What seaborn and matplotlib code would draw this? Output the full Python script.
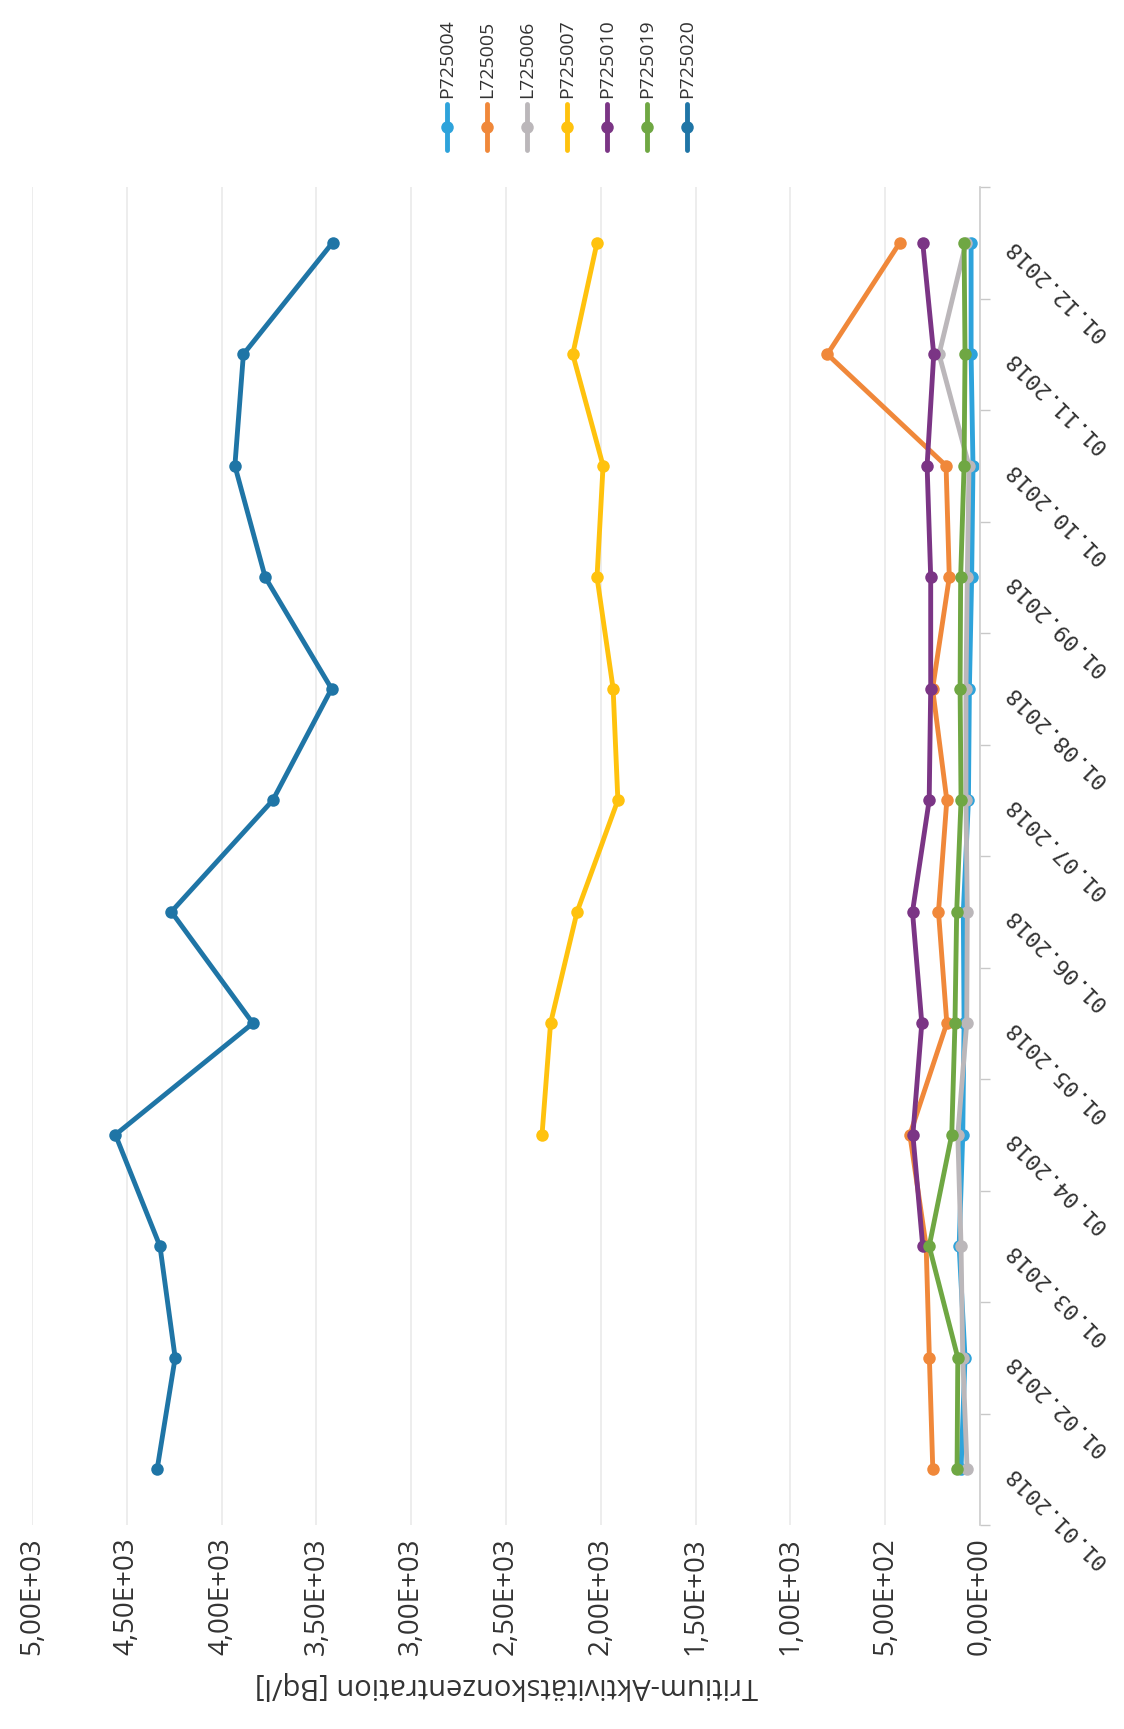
import numpy as np
import pandas as pd
import matplotlib
matplotlib.use("Agg")
import matplotlib.pyplot as plt
from matplotlib.lines import Line2D
from matplotlib.ticker import FuncFormatter
import seaborn as sns

months = ["01.01.2018", "01.02.2018", "01.03.2018", "01.04.2018", "01.05.2018", "01.06.2018",
          "01.07.2018", "01.08.2018", "01.09.2018", "01.10.2018", "01.11.2018", "01.12.2018"]

stations = ["P725004", "L725005", "L725006", "P725007", "P725010", "P725019", "P725020"]

p725004 = [100, 79, 110, 91, 84, 88, 61, 56, 44, 37, 47, 47]
l725005 = [249, 267, 284, 370, 175, 219, 175, 250, 162, 179, 805, 423]
l725006 = [68, 91, 100, 117, 70, 67, 74, 74, 67, 58, 216, 74]
p725007 = [None, None, None, 2310, 2265, 2125, 1910, 1935, 2020, 1988, 2148, 2020]
p725010 = [None, None, 302, 354, 307, 356, 268, 260, 260, 279, 244, 302]
p725019 = [121, 117, 268, 149, 132, 123, 100, 105, 102, 84, 79, 84]
p725020 = [4340, 4245, 4325, 4560, 3835, 4265, 3730, 3420, 3770, 3930, 3885, 3415]

colors = ["#2EA3DB", "#F0883A", "#BBB7BA", "#FFC20E", "#7B3585", "#6FA743", "#1F75A6"]

series = dict(zip(stations, [p725004, l725005, l725006, p725007, p725010, p725019, p725020]))

rows = []
for name, vals in series.items():
    for i, v in enumerate(vals):
        rows.append({"station": name, "month": i, "value": v})
df = pd.DataFrame(rows).dropna()

sns.set_theme(style="white")
plt.rcParams["font.family"] = ["Open Sans", "DejaVu Sans"]

W, H = 1124, 1729
fig = plt.figure(figsize=(W / 100, H / 100), dpi=100)
ax = fig.add_axes([32 / W, 1 - 1525 / H, 948 / W, 1338 / H])

sns.lineplot(data=df, x="value", y="month", hue="station", hue_order=stations,
             palette=colors, orient="y", estimator=None, marker="o", markersize=9,
             markeredgewidth=0, linewidth=3.5, legend=False, ax=ax)

ax.set_xlim(5000, 0)
ax.set_ylim(-0.5, 11.5)

ax.set_xticks(np.arange(0, 5001, 500))
ax.xaxis.set_major_formatter(FuncFormatter(lambda v, p: f"{v:.2E}".replace(".", ",")))
ax.tick_params(axis="x", labelrotation=90, length=0, pad=9, labelsize=20, labelcolor="#333333")

ax.yaxis.tick_right()
ax.set_yticks(range(len(months)))
ax.set_yticklabels(months, rotation=135, rotation_mode="anchor", ha="right", va="center",
                   fontfamily="DejaVu Sans Mono", fontsize=16, color="#333333")
ax.set_yticks(np.arange(-0.5, len(months), 1), minor=True)
ax.tick_params(axis="y", which="major", length=0, pad=21)
ax.tick_params(axis="y", which="minor", length=7, width=1, color="#C8C8C8", direction="out",
               right=True, left=False)

ax.grid(axis="x", color="#EAEAEA", linewidth=1.2)
ax.grid(axis="y", visible=False)
for side in ["left", "top", "bottom"]:
    ax.spines[side].set_visible(False)
ax.spines["right"].set_color("#D0D0D0")
ax.set_ylabel("")

ax.set_xlabel("Tritium-Aktivitätskonzentration [Bq/l]", rotation=180, fontsize=21,
              color="#333333", va="center")
ax.xaxis.set_label_coords(0.5, -0.12)

# legend, drawn vertically at the top
for k, (name, col) in enumerate(zip(stations, colors)):
    x = (447 + 40 * k) / W
    fig.add_artist(Line2D([x, x], [1 - 104 / H, 1 - 150 / H], transform=fig.transFigure,
                          color=col, linewidth=3.5))
    fig.add_artist(Line2D([x], [1 - 127 / H], transform=fig.transFigure, color=col,
                          marker="o", markersize=9, markeredgewidth=0))
    fig.text(x, 1 - 98 / H, name, rotation=90, ha="center", va="bottom", fontsize=14,
             color="#333333")

fig.savefig("out.png", dpi=100, facecolor="white")
